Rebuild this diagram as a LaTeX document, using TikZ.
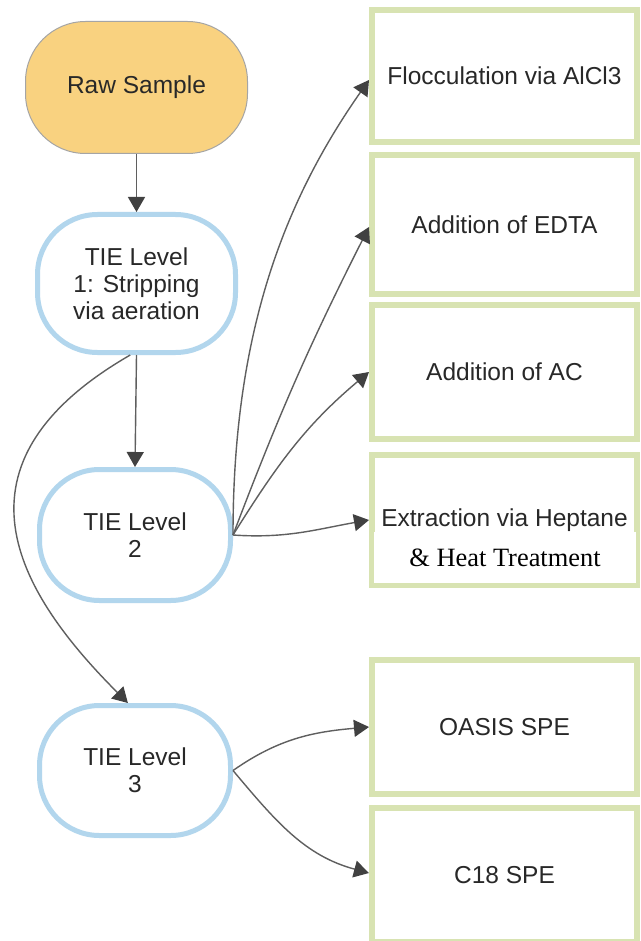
\documentclass[tikz,border=0pt]{standalone}
\usepackage{fontspec}
\setmainfont{Liberation Sans}
\newfontfamily\serifx{Liberation Serif}
\usetikzlibrary{arrows.meta,calc}
\definecolor{rawfill}{RGB}{249,210,128}
\definecolor{rawline}{RGB}{165,165,165}
\definecolor{tieline}{RGB}{178,214,237}
\definecolor{boxline}{RGB}{216,227,178}
\definecolor{txt}{RGB}{40,40,40}
\definecolor{conncol}{RGB}{95,95,95}
\definecolor{tipcol}{RGB}{65,65,65}
\begin{document}
\begin{tikzpicture}[x=1pt,y=1pt,
  every node/.style={font=\fontsize{24.5}{27}\selectfont, text=txt, align=center, inner sep=0pt},
  stadium/.style={rectangle, rounded corners=60pt},
  rawbox/.style={stadium, fill=rawfill, draw=rawline, line width=1pt},
  tiebox/.style={stadium, draw=tieline, line width=5pt, fill=white},
  optbox/.style={rectangle, draw=boxline, line width=6pt, fill=white, minimum width=265pt},
  link/.style={draw=conncol, line width=1.4pt, -{Triangle[length=15pt,width=17pt,color=tipcol]}}
]
\useasboundingbox (0,0) rectangle (640,-941);
\fill[white] (0,0) rectangle (640,-941);

% left column
\node[rawbox, minimum width=222pt, minimum height=132pt] (raw) at (136.5,-87.5) {Raw Sample};
\node[tiebox, minimum width=198pt, minimum height=138pt] (tie1) at (136.5,-283.5) {TIE Level\\1: Stripping\\via aeration};
\node[tiebox, minimum width=191pt, minimum height=131pt] (tie2) at (135,-535) {TIE Level\\2};
\node[tiebox, minimum width=191pt, minimum height=130pt] (tie3) at (135,-770.5) {TIE Level\\3};

% right column
\node[optbox, minimum height=132pt] (b1) at (504.5,-76) {Flocculation via AlCl3};
\node[optbox, minimum height=139pt] (b2) at (504.5,-224.5) {Addition of EDTA};
\node[optbox, minimum height=134pt] (b3) at (504.5,-372) {Addition of AC};
\node[optbox, minimum height=130pt] (b4) at (504.5,-520) {Extraction via Heptane};
\node[fill=white, minimum width=262pt, minimum height=51pt, text=black,
      font=\serifx\fontsize{26.4}{30}\selectfont] (heat) at (505,-557.5) {\& Heat Treatment};
\node[optbox, minimum height=134pt] (b5) at (504.5,-727) {OASIS SPE};
\node[optbox, minimum height=134pt] (b6) at (504.5,-875) {C18 SPE};

% connectors
\draw[link] (raw.south) -- (tie1.north);
\draw[link] (tie1.south) -- (tie2.north);
\draw[link] (tie1.265) to[out=210, in=135, out distance=218pt, in distance=158pt] (tie3.96);
\draw[link] (tie2.east) to[out=90, in=235, out distance=200pt, in distance=150pt] ($(b1.west)+(0,-4)$);
\draw[link] (tie2.east) to[bend left=3] ($(b2.west)+(0,-2.5)$);
\draw[link] (tie2.east) to[out=58, in=220] (b3.west);
\draw[link] (tie2.east) to[out=-4, in=190] (b4.west);
\draw[link] (tie3.east) to[out=35, in=185] (b5.west);
\draw[link] (tie3.east) to[out=-50, in=165] ($(b6.west)+(0,2)$);
\end{tikzpicture}
\end{document}
